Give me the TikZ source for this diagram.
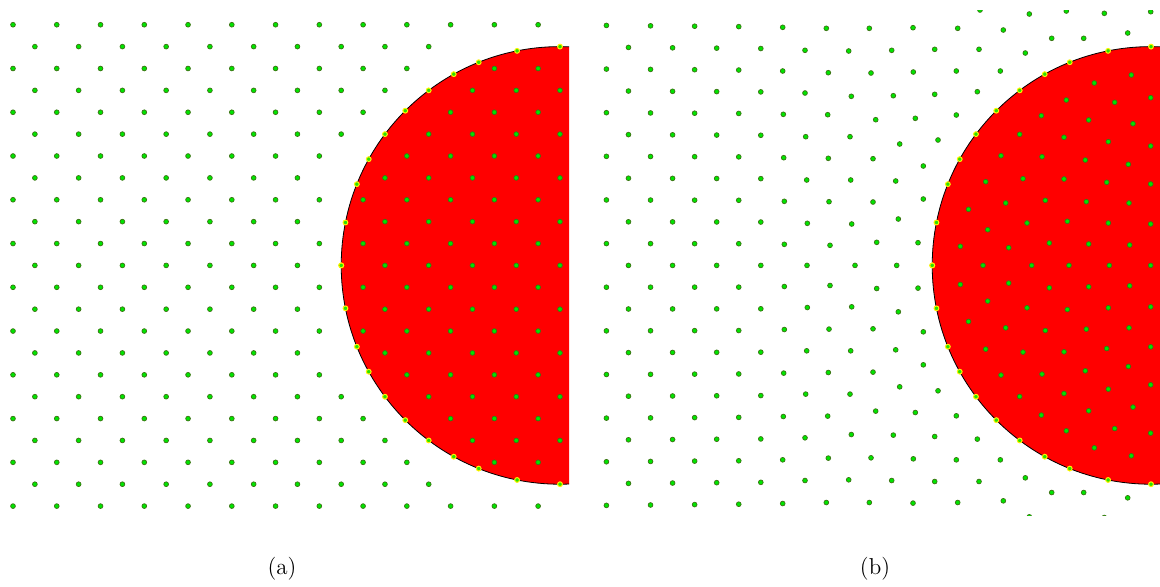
\documentclass[tikz,border=0pt]{standalone}
\newcommand{\gitter}[2]{% punkt siatki, pomijany w pasie przy brzegu
  \pgfmathsetmacro\dd{#1*#1+#2*#2}
  \pgfmathparse{(\dd>92.16 && \dd<121) ? 1 : 0}
  \ifnum\pgfmathresult=0
    \path[pt] ({560+21.88*#1},{265.4+21.88*#2}) circle (1.2pt);
  \fi}
\newcommand{\verschoben}[2]{% punkt siatki po przesunieciu (lewa czesc b)
  \pgfmathsetmacro\xa{560+21.88*#1}
  \pgfmathsetmacro\ya{265.4+21.88*#2}
  \path[pt] ({591+\xa+2.4+0.008*(\xa-12)},{\ya-(#2/11)*(0.7+0.009*(\xa-12))}) circle (1.2pt);}
\newcommand{\randpunkte}[1]{% punkty na okregu
  \foreach \a/\b in {0/10,2/10,4/10,5/9,6/8,7/7,8/6,9/5,10/4,10/2,10/0}{
    \pgfmathsetmacro\s{218.8/sqrt(\a*\a+\b*\b)}
    \path[rim] ({#1+560-\s*\a},{265.4-\s*\b}) circle (1.2pt);
    \path[rim] ({#1+560-\s*\a},{265.4+\s*\b}) circle (1.2pt);
  }}
\begin{document}
\begin{tikzpicture}[x=0.5pt,y=-0.5pt,
    pt/.style={fill={rgb,255:red,0;green,228;blue,0},draw={rgb,255:red,60;green,115;blue,20},line width=0.35pt},
    rim/.style={fill={rgb,255:red,40;green,225;blue,0},draw=yellow,line width=0.5pt},
    disk/.style={fill=red,draw=black,line width=0.4pt}]
    \useasboundingbox (0,0) rectangle (1160,586);

    % (a) Siatka regularna
    \begin{scope}
        \clip (6.7,0) rectangle (569,586);
        \path[disk] (560,265.4) circle (109.4pt);
    \end{scope}
    \foreach \i in {-25,-23,...,-1}{\foreach \j in {-11,-9,...,11}{\gitter{\i}{\j}}}
    \foreach \i in {-24,-22,...,0}{\foreach \j in {-10,-8,...,10}{\gitter{\i}{\j}}}
    \randpunkte{0}

    % (b) Po relaksacji
    \begin{scope}
        \clip (598,10) rectangle (1160,515);
        \path[disk] (1151,265.4) circle (109.4pt);
        \foreach \i in {-25,-23,-21,-19}{\foreach \j in {-11,-9,...,11}{\verschoben{\i}{\j}}}
        \foreach \i in {-24,-22,-20,-18}{\foreach \j in {-10,-8,...,10}{\verschoben{\i}{\j}}}
        % gorna polowa, odbita wzgledem osi
        \foreach \x/\y in {782.7/27.3, 826.3/28.3, 869.3/28.3, 913/27.7, 957.7/28.3,
            805/50.3, 848.7/51, 891.7/50.3, 934.7/49.3, 979/49.3,
            782.7/71, 828.3/72.7, 871/73, 913.3/72, 956.3/71,
            805/93, 851.3/96.3, 893.3/95.7, 934.7/94.3, 977.3/91.7,
            783.3/114.3, 827.7/114.7, 875.7/119.7, 915.3/118.3, 956.3/115,
            805.7/136.7, 850/136.7, 899.7/144, 938/140,
            783.7/157.7, 828.3/158.3, 873/158.7, 923.3/166,
            806.7/180, 850.7/180, 895.7/181, 923.3/199,
            784.3/201.3, 829/201.7, 873/202,
            807.3/223.3, 851.7/224, 898.3/219,
            784.3/244.3, 830/245.3, 876.7/242.3, 918/242.7,
            980/10, 1029.3/14, 1066.3/11, 1104.3/13.3, 1150.7/11.7,
            1003.3/30, 1051.7/38.3, 1083.7/38.3, 1127.7/33,
            1025.3/53, 1000.3/71,
            1131.3/75, 1094.3/83, 1150.7/97.7, 1066.3/100, 1114.7/102.3,
            1041.3/115.7, 1088.7/120, 1133/123.7, 1019.7/134.3, 1064/137.3,
            1108.3/141.7, 1150.7/146, 1001/155.7, 1042/156.7, 1085.3/160,
            1128.3/164.3, 985.7/181.7, 1023/178.7, 1064/179, 1106.7/182.3,
            1150.7/184, 968.5/209.3, 1005.7/203, 1045.3/200.3, 1086.3/201.7,
            1129/203, 987.7/229.7, 1027/223, 1067.3/221.3, 1108.3/223,
            1150.7/224, 960.3/246.3, 1008.7/247.7, 1049.3/243, 1088.7/244,
            1129.7/245}{
            \path[pt] (\x,\y) circle (1.2pt);
            \path[pt] (\x,{530.8-\y}) circle (1.2pt);
        }
        \foreach \x in {807,855,896.7,983,1031.7,1069,1109.3,1150.7}{
            \path[pt] (\x,265.4) circle (1.2pt);
        }
        \randpunkte{591}
    \end{scope}

    \node[font=\fontsize{11.5pt}{13pt}\selectfont] (capa) at (282,569) {(a)};
    \node[font=\fontsize{11.5pt}{13pt}\selectfont] (capb) at (875,569) {(b)};
\end{tikzpicture}
\end{document}
